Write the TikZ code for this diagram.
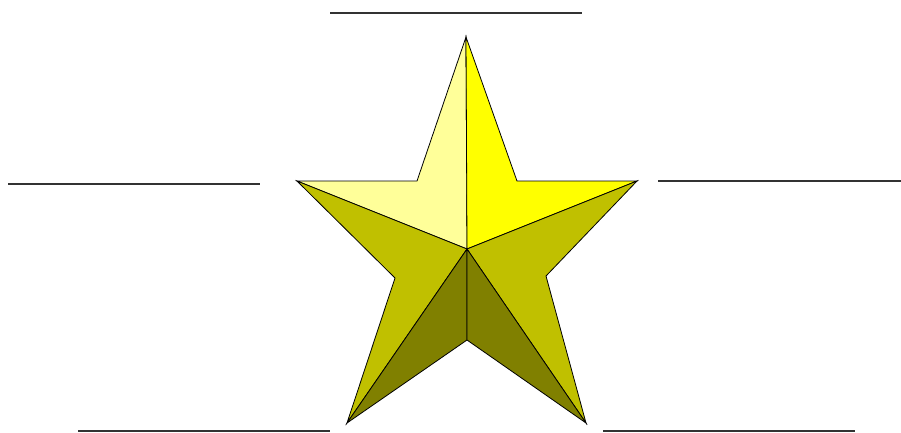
\documentclass[tikz,border=0pt]{standalone}
\usepackage{tikz}
\definecolor{lightface}{RGB}{255,255,153}
\definecolor{brightface}{RGB}{255,255,0}
\definecolor{midface}{RGB}{192,192,0}
\definecolor{darkface}{RGB}{128,128,0}
\tikzset{
  face/.style={draw=black, line width=0.8pt, line join=miter},
  blank/.style={draw=black!80, line width=1.3pt}
}
\begin{document}
\begin{tikzpicture}[x=1pt,y=-1pt]
\useasboundingbox (0,0) rectangle (901,432);
% star points
\coordinate (T) at (466,37);
\coordinate (IUL) at (417,181);
\coordinate (L) at (297,181);
\coordinate (IUR) at (517,181);
\coordinate (R) at (637,181);
\coordinate (C) at (467,249);
\coordinate (ILL) at (395,278);
\coordinate (ILR) at (546,276);
\coordinate (BL) at (347,423);
\coordinate (BR) at (586,423);
\coordinate (IB) at (467,340);
% faces
\filldraw[face, fill=lightface] (T) -- (IUL) -- (L) -- (C) -- cycle;
\filldraw[face, fill=brightface] (T) -- (C) -- (R) -- (IUR) -- cycle;
\filldraw[face, fill=midface] (L) -- (C) -- (BL) -- (ILL) -- cycle;
\filldraw[face, fill=midface] (R) -- (ILR) -- (BR) -- (C) -- cycle;
\filldraw[face, fill=darkface] (C) -- (BL) -- (IB) -- cycle;
\filldraw[face, fill=darkface] (C) -- (IB) -- (BR) -- cycle;
% blank lines
\coordinate (t1) at (330,13); \coordinate (t2) at (582,13);
\coordinate (l1) at (8,184); \coordinate (l2) at (260,184);
\coordinate (r1) at (658,181); \coordinate (r2) at (901,181);
\coordinate (bl1) at (78,431); \coordinate (bl2) at (330,431);
\coordinate (br1) at (603,431); \coordinate (br2) at (855,431);
\draw[blank] (t1) -- (t2);
\draw[blank] (l1) -- (l2);
\draw[blank] (r1) -- (r2);
\draw[blank] (bl1) -- (bl2);
\draw[blank] (br1) -- (br2);
\end{tikzpicture}
\end{document}
